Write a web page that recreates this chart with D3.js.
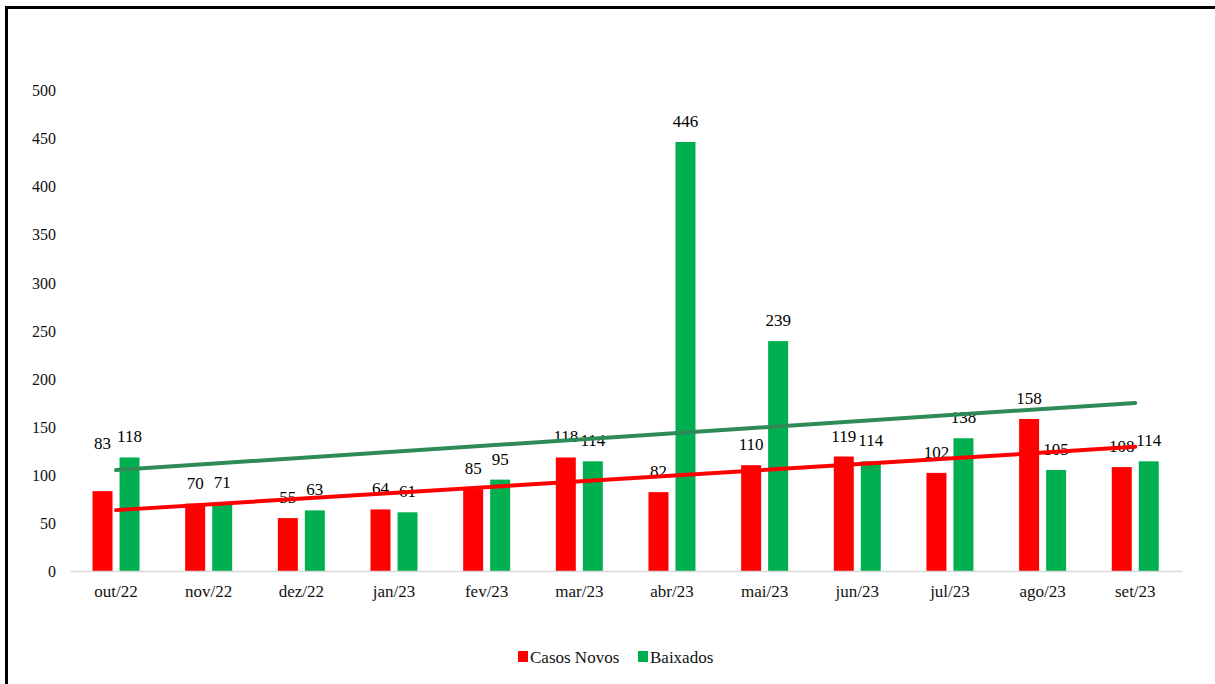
<!DOCTYPE html>
<html>
<head>
<meta charset="utf-8">
<script src="https://cdn.jsdelivr.net/npm/d3@7"></script>
<style>
  html, body { margin: 0; padding: 0; background: #fff; overflow: hidden; }
  svg { display: block; }
  svg text { font-family: "Liberation Serif", "Tinos", "Times New Roman", "DejaVu Serif", serif !important; }
</style>
</head>
<body>
<svg id="chart" width="1215" height="684"></svg>
<script>
const categories = ["out/22","nov/22","dez/22","jan/23","fev/23","mar/23","abr/23","mai/23","jun/23","jul/23","ago/23","set/23"];
const casosNovos = [83, 70, 55, 64, 85, 118, 82, 110, 119, 102, 158, 108];
const baixados   = [118, 71, 63, 61, 95, 114, 446, 239, 114, 138, 105, 114];
const seriesNames = ["Casos Novos", "Baixados"];
const yTicks = [0, 50, 100, 150, 200, 250, 300, 350, 400, 450, 500];

const colors = { "Casos Novos": "#ff0000", "Baixados": "#00b050" };
const trendColors = { "Casos Novos": "#ff0000", "Baixados": "#2e8b57" };
const FONT = '"Liberation Serif", "Tinos", "Times New Roman", "DejaVu Serif", serif';

const svg = d3.select("#chart");
const plotLeft = 69.7, plotRight = 1181.6, plotTop = 90, plotBottom = 571;

const x0 = d3.scaleBand().domain(categories).range([plotLeft, plotRight]).paddingInner(0).paddingOuter(0);
const x1 = d3.scaleBand().domain(seriesNames).range([-23.5, 23.5]).paddingInner(0.26);
const y = d3.scaleLinear().domain([0, 500]).range([plotBottom, plotTop]);

const seriesData = {
  "Casos Novos": casosNovos,
  "Baixados": baixados
};

// frame
svg.append("rect")
  .attr("x", 6.5).attr("y", 7.5)
  .attr("width", 1240).attr("height", 700)
  .attr("fill", "none").attr("stroke", "#000").attr("stroke-width", 3);

// y axis labels
const yAxis = d3.axisLeft(y).tickValues(yTicks).tickSize(0).tickPadding(0).tickFormat(d3.format("d"));
const yg = svg.append("g").attr("transform", `translate(56,0)`).call(yAxis);
yg.attr("font-family", FONT);
yg.select(".domain").remove();
yg.selectAll("text").attr("font-size", 16).attr("fill", "#111").attr("dy", "0.35em");

// bars
const groups = svg.append("g").selectAll("g")
  .data(categories).join("g")
  .attr("transform", d => `translate(${x0(d) + x0.bandwidth() / 2},0)`);

groups.selectAll("rect")
  .data((c, i) => seriesNames.map(s => ({ s, v: seriesData[s][i] })))
  .join("rect")
  .attr("x", d => x1(d.s))
  .attr("width", x1.bandwidth())
  .attr("y", d => y(d.v))
  .attr("height", d => y(0) - y(d.v))
  .attr("fill", d => colors[d.s]);

// x axis
const xAxis = d3.axisBottom(x0).tickSize(0).tickPadding(14);
const xg = svg.append("g").attr("transform", `translate(0,${plotBottom})`).call(xAxis);
xg.attr("font-family", FONT);
xg.select(".domain").attr("stroke", "#d9d9d9").attr("stroke-width", 1.3);
xg.selectAll("text").attr("font-size", 17).attr("fill", "#111");

// data labels
const labelNudge = { "Casos Novos-0": -27 };
groups.selectAll("text.lbl")
  .data((c, i) => seriesNames.map(s => ({ s, v: seriesData[s][i], key: s + "-" + i })))
  .join("text")
  .attr("class", "lbl")
  .attr("x", d => x1(d.s) + x1.bandwidth() / 2)
  .attr("y", d => y(d.v) - 15 + (labelNudge[d.key] || 0))
  .attr("text-anchor", "middle")
  .attr("font-family", FONT)
  .attr("font-size", 17)
  .attr("fill", "#000")
  .text(d => d.v);

// linear trendlines
function regression(vals) {
  const n = vals.length;
  const xs = d3.range(n);
  const mx = d3.mean(xs), my = d3.mean(vals);
  let sxy = 0, sxx = 0;
  xs.forEach((xv, i) => { sxy += (xv - mx) * (vals[i] - my); sxx += (xv - mx) * (xv - mx); });
  const slope = sxy / sxx;
  return xv => my + slope * (xv - mx);
}
const line = d3.line().x(d => d[0]).y(d => d[1]);
seriesNames.forEach(s => {
  const f = regression(seriesData[s]);
  const n = categories.length;
  const pts = [0, n - 1].map(i => [x0(categories[i]) + x0.bandwidth() / 2, y(f(i))]);
  svg.append("path")
    .attr("d", line(pts))
    .attr("stroke", trendColors[s])
    .attr("stroke-width", 4)
    .attr("stroke-linecap", "round")
    .attr("fill", "none");
});

// legend
const legend = svg.append("g").attr("transform", "translate(518,657)").attr("font-family", FONT);
const legendItems = [
  { s: "Casos Novos", x: 0 },
  { s: "Baixados", x: 120 }
];
legendItems.forEach(it => {
  legend.append("rect").attr("x", it.x).attr("y", -6).attr("width", 10).attr("height", 11).attr("fill", colors[it.s]);
  legend.append("text").attr("x", it.x + 12).attr("y", 0).attr("dy", "0.35em")
    .attr("font-size", 17).attr("fill", "#111").text(it.s);
});
</script>
</body>
</html>
